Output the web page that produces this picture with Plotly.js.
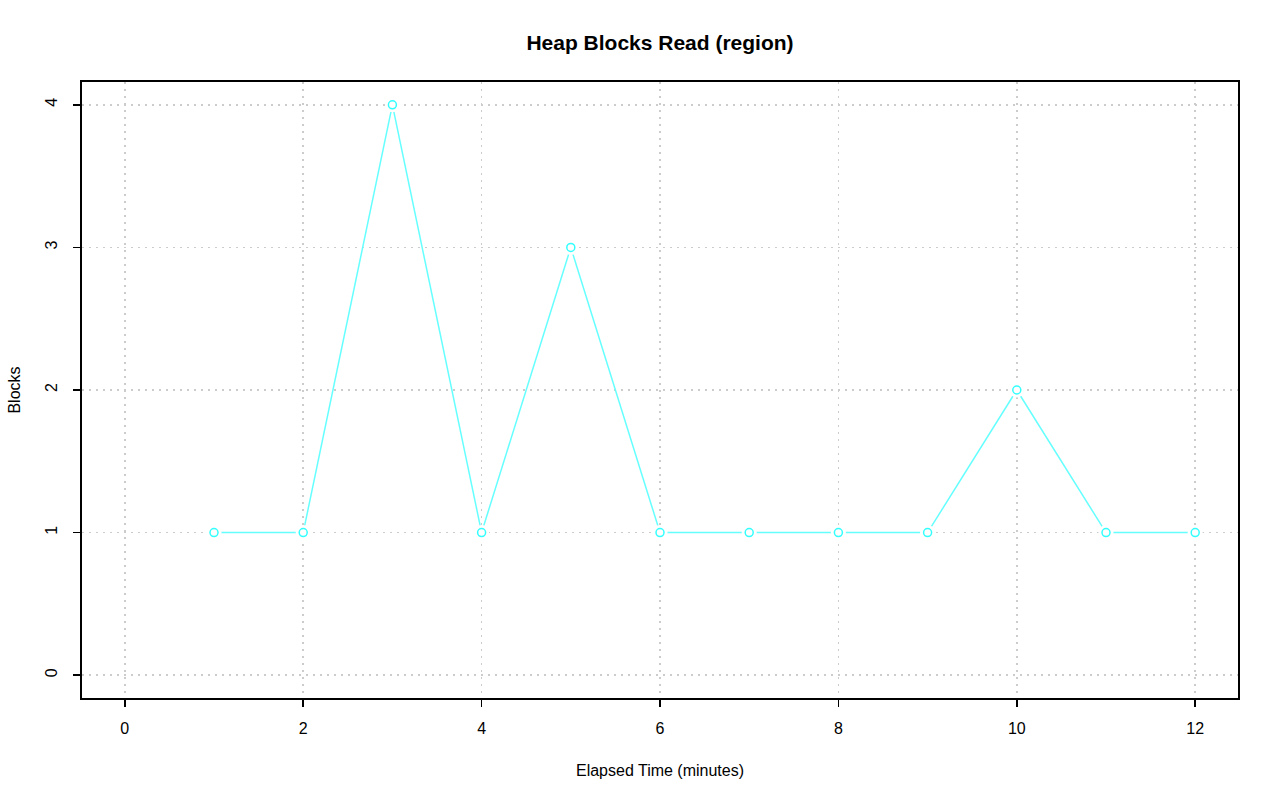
<!DOCTYPE html>
<html><head><meta charset="utf-8">
<script src="https://cdn.plot.ly/plotly-3.0.1.min.js"></script>
<style>html,body{margin:0;padding:0;background:#fff}#chart{width:1280px;height:801px}</style>
</head><body><div id="chart"></div>
<script>
const minutes = [1,2,3,4,5,6,7,8,9,10,11,12];
const blocks  = [1,1,4,1,3,1,1,1,1,2,1,1];
const xTicks = [0,2,4,6,8,10,12];
const yTicks = [0,1,2,3,4];
const lineColor = '#66ffff';
const ff = 'Liberation Sans, Arial, Helvetica, sans-serif';

const traces = [
  {x: minutes, y: blocks, type:'scatter', mode:'lines', line:{color:lineColor, width:1.5}, hoverinfo:'skip'},
  {x: minutes, y: blocks, type:'scatter', mode:'markers', marker:{symbol:'circle', size:15, color:'#ffffff', line:{width:0}}, hoverinfo:'skip'},
  {x: minutes, y: blocks, type:'scatter', mode:'markers', marker:{symbol:'circle-open', size:8, color:'#33ffff', line:{width:1.5, color:'#33ffff'}}}
];

const axisCommon = {
  showline:true, mirror:true, linecolor:'#000', linewidth:2,
  ticks:'outside', ticklen:7, tickwidth:1.5, tickcolor:'#000',
  showgrid:true, gridcolor:'#cccccc', griddash:'2px,5px', gridwidth:1.5,
  zeroline:false, tickfont:{family:ff, size:16, color:'#000'}
};

const layout = {
  width:1280, height:801,
  paper_bgcolor:'#fff', plot_bgcolor:'#fff',
  showlegend:false,
  margin:{l:82, r:42, t:82, b:103},
  title:{text:'<b>Heap Blocks Read (region)</b>', font:{family:ff, size:21, color:'#000'}, xref:'paper', x:0.5, xanchor:'center', y:0.947, yanchor:'middle'},
  xaxis: Object.assign({}, axisCommon, {
    range:[-0.48, 12.48], tickmode:'array', tickvals:xTicks, ticktext:xTicks.map(String),
    ticklabelstandoff:8,
    title:{text:'Elapsed Time (minutes)', font:{family:ff, size:16, color:'#000'}, standoff:29}
  }),
  yaxis: Object.assign({}, axisCommon, {
    range:[-0.16, 4.16], tickmode:'array', tickvals:yTicks, ticktext:yTicks.map(String),
    tickangle:-90, ticklabelstandoff:10,
    title:{text:'Blocks', font:{family:ff, size:16, color:'#000'}, standoff:18}
  })
};

Plotly.newPlot('chart', traces, layout, {staticPlot:true, displayModeBar:false});
</script></body></html>
